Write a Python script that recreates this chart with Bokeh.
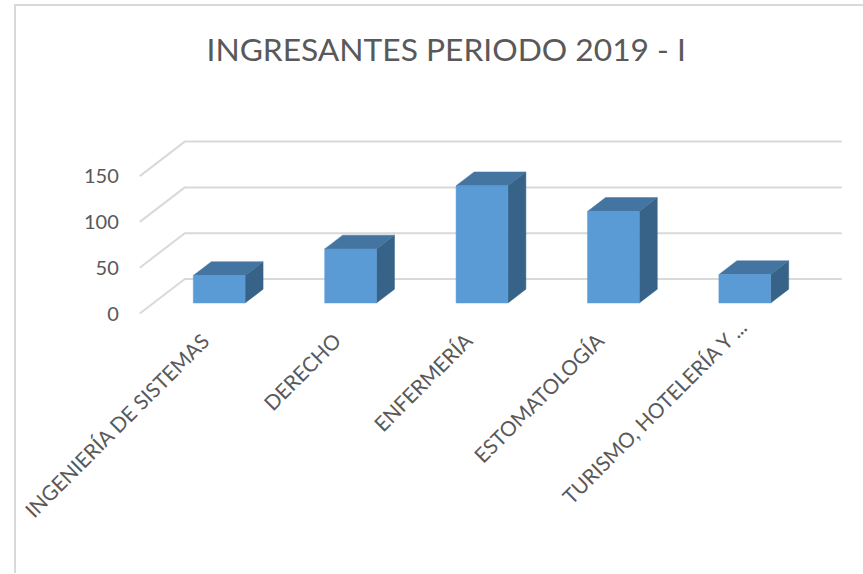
from bokeh.plotting import figure
from bokeh.embed import file_html
from bokeh.resources import INLINE
from bokeh.models import Range1d, FixedTicker, Title, LinearAxis

categories = ["INGENIERÍA DE SISTEMAS", "DERECHO", "ENFERMERÍA", "ESTOMATOLOGÍA", "TURISMO, HOTELERÍA Y ..."]
values = [30, 59, 128, 100, 31]
y_ticks = [0, 50, 100, 150]
title_text = "INGRESANTES PERIODO 2019 - I"

# oblique projection of the 3-D chart: depth d runs 0 (front) .. 1 (back wall)
DX = 0.3425   # category units per unit of depth
DY = 37.66    # value units per unit of depth
D0, D1 = 0.304, 0.704   # front and back faces of the bars
BAR_W = 0.394
PX_PER_VALUE = 0.916
PX_PER_CAT = 131.4

FRAME_W, FRAME_H = 847, 485
FRAME_LEFT_PAGE, FRAME_TOP_PAGE = 16, 88.5
X0_PAGE, Y0_PAGE = 205.0, 313.5

x_start = (FRAME_LEFT_PAGE - X0_PAGE) / PX_PER_CAT
x_end = x_start + FRAME_W / PX_PER_CAT
y_end = (Y0_PAGE - FRAME_TOP_PAGE) / PX_PER_VALUE
y_start = y_end - FRAME_H / PX_PER_VALUE

def proj(x, v, d):
    return x + DX * d, v + DY * d

p = figure(frame_width=FRAME_W, frame_height=FRAME_H, output_backend="svg", toolbar_location=None,
           x_range=Range1d(x_start, x_end), y_range=Range1d(y_start, y_end),
           min_border=0, outline_line_color=None, background_fill_color="white",
           border_fill_color="white", margin=(0, 0, 0, 0),
           styles={"border-top": "2px solid #d9d9d9", "border-left": "2px solid #d9d9d9",
                   "margin-left": "14px", "margin-top": "4px"})
p.grid.visible = False

p.add_layout(Title(text=title_text, align="left", offset=190, text_font="Lato", text_font_size="31.75px",
                   text_font_style="normal", text_color="#595959", standoff=42), "above")

# gridlines: front edge, along the side wall, along the back wall
gx, gy = [], []
for t in y_ticks:
    pts = [proj(-0.5, t, 0), proj(-0.5, t, 1), proj(4.5, t, 1)]
    gx.append([q[0] for q in pts])
    gy.append([q[1] for q in pts])
p.multi_line(gx, gy, line_color="#d9d9d9", line_width=2)

front_l, front_r, front_b, front_t = [], [], [], []
side_x, side_y, top_x, top_y = [], [], [], []
for i, v in enumerate(values):
    l, r = i - BAR_W / 2, i + BAR_W / 2
    x1, y1 = proj(l, 0, D0)
    x2, y2 = proj(r, v, D0)
    front_l.append(x1); front_r.append(x2); front_b.append(y1); front_t.append(y2)
    side = [proj(r, 0, D0), proj(r, 0, D1), proj(r, v, D1), proj(r, v, D0)]
    side_x.append([q[0] for q in side]); side_y.append([q[1] for q in side])
    top = [proj(l, v, D0), proj(r, v, D0), proj(r, v, D1), proj(l, v, D1)]
    top_x.append([q[0] for q in top]); top_y.append([q[1] for q in top])

p.patches(side_x, side_y, fill_color="#376388", line_color="#376388", line_width=0.5)
p.patches(top_x, top_y, fill_color="#4475a1", line_color="#4475a1", line_width=0.5)
p.quad(left=front_l, right=front_r, bottom=front_b, top=front_t, fill_color="#5b9bd5", line_color="#5b9bd5", line_width=0.5)

# axes sit on the front plane, inside the frame
p.yaxis.fixed_location = -0.5
p.yaxis.ticker = FixedTicker(ticks=y_ticks)
p.yaxis.axis_line_color = None
p.yaxis.major_tick_line_color = None
p.yaxis.minor_tick_line_color = None
p.yaxis.major_label_standoff = 15
p.yaxis.major_label_text_font = "Lato"
p.yaxis.major_label_text_font_size = "20px"
p.yaxis.major_label_text_color = "#595959"

def style_x(ax, location, ticks, labels):
    ax.fixed_location = location
    ax.ticker = FixedTicker(ticks=ticks)
    ax.major_label_overrides = dict(zip(ticks, labels))
    ax.major_label_orientation = 0.785
    ax.axis_line_color = None
    ax.major_tick_line_color = None
    ax.minor_tick_line_color = None
    ax.major_label_standoff = 8
    ax.major_label_text_font = "Lato"
    ax.major_label_text_font_size = "20.7px"
    ax.major_label_text_color = "#595959"

style_x(p.xaxis[0], -10, [0, 1, 2, 3], categories[:4])
# the truncated last label sits further along its own diagonal, as in the original
last_axis = LinearAxis()
style_x(last_axis, 6.4, [4.1], categories[4:])
p.add_layout(last_axis, "below")

open("out.html", "w").write(file_html(p, INLINE))
